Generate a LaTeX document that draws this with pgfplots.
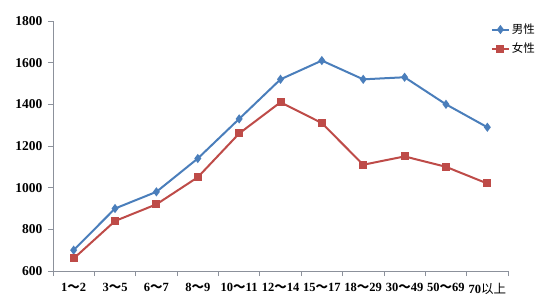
\documentclass[border=0pt]{standalone}
\usepackage{fontspec}
\setmainfont{Liberation Serif}
\newfontfamily\cjk{Noto Sans CJK SC}
\usepackage{pgfplots}
\pgfplotsset{compat=1.18}
\definecolor{mblue}{RGB}{74,126,187}
\definecolor{mred}{RGB}{190,75,72}
\definecolor{axgray}{RGB}{140,145,155}
\begin{document}
\begin{tikzpicture}
\begin{axis}[
  scale only axis,
  width=455pt, height=250pt,
  xmin=-0.5, xmax=10.5,
  ymin=600, ymax=1800,
  ytick={600,800,...,1800},
  xtick={0,...,10},
  xticklabels={1{\cjk\bfseries～}2,3{\cjk\bfseries～}5,6{\cjk\bfseries～}7,8{\cjk\bfseries～}9,10{\cjk\bfseries～}11,12{\cjk\bfseries～}14,15{\cjk\bfseries～}17,18{\cjk\bfseries～}29,30{\cjk\bfseries～}49,50{\cjk\bfseries～}69,70{\cjk\mdseries 以上}},
  minor xtick={-0.5,0.5,...,10.5},
  axis x line*=bottom, axis y line*=left,
  axis line style={axgray, thick},
  x axis line style={-}, y axis line style={-},
  major x tick style={draw=none},
  minor x tick style={axgray, thick},
  major y tick style={axgray, thick},
  tick align=outside,
  major tick length=5pt, minor tick length=5pt,
  /pgf/number format/assume math mode=true,
  /pgf/number format/set thousands separator={},
  yticklabel style={font=\fontsize{13.5}{15}\selectfont\bfseries, xshift=-2pt},
  xticklabel style={font=\fontsize{12.5}{14}\selectfont\bfseries, yshift=-4pt},
  clip=false,
  legend style={draw=none, fill=none, at={(rel axis cs:0.962,0.997)}, anchor=north west,
    font=\cjk\fontsize{11.5}{13}\selectfont, row sep=4pt, inner sep=0pt},
  legend cell align=left,
]
\addplot[mblue, line width=2pt, mark=diamond*, mark size=3pt, mark options={solid}] coordinates {
(0,700) (1,900) (2,980) (3,1140) (4,1330) (5,1520) (6,1610) (7,1520) (8,1530) (9,1400) (10,1290)};
\addlegendentry{男性}
\addplot[mred, line width=2pt, mark=square*, mark size=3pt, mark options={solid}] coordinates {
(0,660) (1,840) (2,920) (3,1050) (4,1260) (5,1410) (6,1310) (7,1110) (8,1150) (9,1100) (10,1020)};
\addlegendentry{女性}
\end{axis}
\path[use as bounding box] ([shift={(-53pt,-29pt)}]current axis.south west) rectangle ([shift={(49pt,21pt)}]current axis.north east);
\end{tikzpicture}
\end{document}
